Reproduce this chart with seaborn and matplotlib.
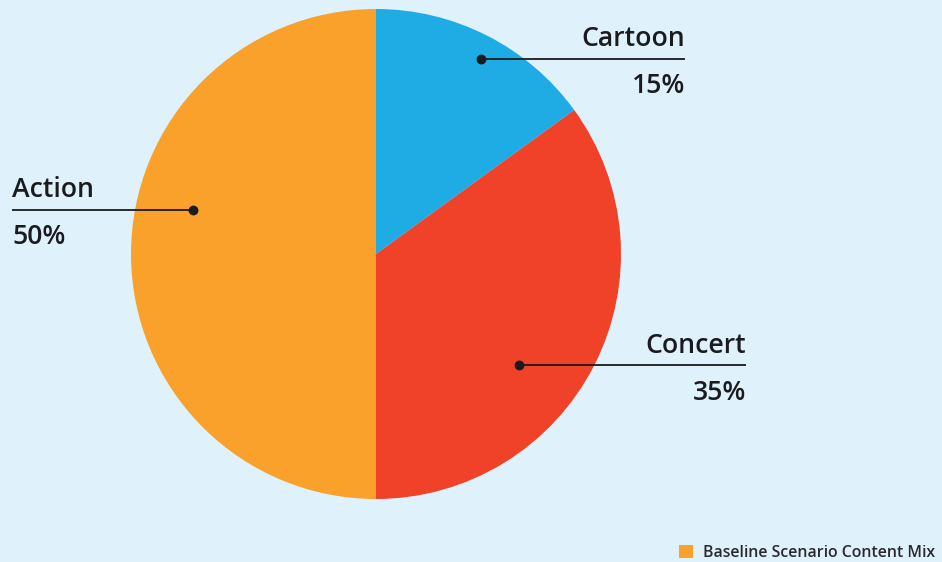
import numpy as np
import matplotlib
matplotlib.use("Agg")
import matplotlib.pyplot as plt
from matplotlib.patches import Patch
import seaborn as sns

# Content mix by genre
categories = ["Cartoon", "Concert", "Action"]
shares = [15, 35, 50]
colors = ["#1FABE3", "#F04129", "#F9A12B"]
legend_label = "Baseline Scenario Content Mix"

BG = "#DFF2FB"
INK = "#1B1B1F"

sns.set_theme(style="white")
plt.rcParams["font.family"] = ["Open Sans", "DejaVu Sans"]

W, H = 942, 562
fig = plt.figure(figsize=(W / 100, H / 100), dpi=100, facecolor=BG)
ax = fig.add_axes([0, 0, 1, 1])
ax.set_facecolor(BG)

cx, cy, r = 376, H - 254, 245
wedges, _ = ax.pie(shares, colors=colors, startangle=90, counterclock=False,
                   center=(cx, cy), radius=r, frame=True,
                   wedgeprops=dict(linewidth=0))
ax.set_xlim(0, W)
ax.set_ylim(0, H)
ax.set_aspect("equal")
ax.axis("off")

# callout anchor (angle in degrees, fraction of radius), line end x, text alignment
callouts = {
    "Cartoon": (61.7, 0.905, 685, "right"),
    "Concert": (-37.8, 0.740, 746, "right"),
    "Action": (166.5, 0.770, 12, "left"),
}
for name, val in zip(categories, shares):
    ang, frac, xend, ha = callouts[name]
    px = cx + frac * r * np.cos(np.radians(ang))
    py = cy + frac * r * np.sin(np.radians(ang))
    ax.plot([px, xend], [py, py], color=INK, lw=1.3, solid_capstyle="butt", zorder=3)
    ax.scatter([px], [py], s=50, color=INK, zorder=4, linewidths=0)
    ax.text(xend, py + 23, name, ha=ha, va="center_baseline", fontsize=19.2,
            fontweight=600, color=INK)
    ax.text(xend, py - 24, f"{val}%", ha=ha, va="center_baseline", fontsize=19.2,
            fontweight=600, color=INK)

handle = Patch(facecolor=colors[2], edgecolor="none")
leg = fig.legend([handle], [legend_label], loc="lower right",
                 bbox_to_anchor=(1.008, -0.024), frameon=False,
                 handlelength=0.9, handleheight=0.9, handletextpad=0.65,
                 prop=dict(size=11.4, weight=600))
for t in leg.get_texts():
    t.set_color("#2A2A2E")

fig.savefig("out.png", dpi=100, facecolor=BG)
